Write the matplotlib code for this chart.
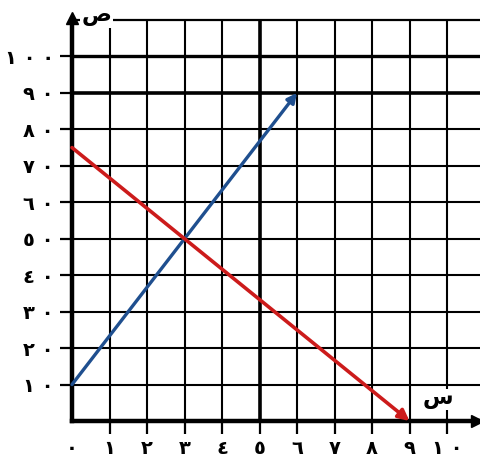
import matplotlib
matplotlib.use("Agg")
import matplotlib.pyplot as plt

plt.rcParams["font.family"] = ["DejaVu Sans"]

# tick values and Arabic-Indic labels
x_ticks = [0, 1, 2, 3, 4, 5, 6, 7, 8, 9, 10]
x_labels = ["٠", "١", "٢", "٣", "٤", "٥", "٦", "٧", "٨", "٩", "١ ٠"]
y_ticks = [10, 20, 30, 40, 50, 60, 70, 80, 90, 100]
y_labels = ["١ ٠", "٢ ٠", "٣ ٠", "٤ ٠", "٥ ٠", "٦ ٠", "٧ ٠", "٨ ٠", "٩ ٠", "١ ٠ ٠"]

# the two lines (start, end)
blue_x = [0, 6]
blue_y = [10, 90]
red_x = [0, 9]
red_y = [75, 0]

x_name = "س"
y_name = "ص"

BLUE = "#1f4f8f"
RED = "#cc1b1b"

fig = plt.figure(figsize=(4.8, 4.65), dpi=100)
ax = fig.add_axes([72 / 480, 44 / 465, 408 / 480, 401 / 465])
ax.set_xlim(0, 10.88)
ax.set_ylim(0, 110)

ax.spines["right"].set_visible(False)
ax.spines["left"].set_linewidth(3.2)
ax.spines["bottom"].set_linewidth(3.2)
ax.spines["top"].set_linewidth(1.6)

ax.set_xticks(x_ticks)
ax.set_xticklabels(x_labels, fontsize=14, fontweight="bold")
ax.set_yticks(y_ticks)
ax.set_yticklabels(y_labels, fontsize=14, fontweight="bold")
ax.tick_params(direction="out", length=9, width=1.6, pad=4)
ax.xaxis.get_major_ticks()[0].tick1line.set_visible(False)

ax.grid(True, color="black", linewidth=1.5, zorder=0)
ax.set_axisbelow(True)
# heavier lines as in the hand-drawn grid
ax.get_xgridlines()[5].set_linewidth(2.6)
ax.get_ygridlines()[8].set_linewidth(2.6)
ax.get_ygridlines()[9].set_linewidth(2.4)

# axis arrowheads
ax.plot([0], [110.5], marker="^", color="black", markersize=9, clip_on=False, zorder=5)
ax.plot([10.8], [0], marker=">", color="black", markersize=9, clip_on=False, zorder=5)

# axis names
ax.text(0.25, 111, y_name, fontsize=16, fontweight="bold", ha="left", va="center",
        bbox=dict(facecolor="white", edgecolor="none", pad=1), zorder=6)
ax.text(9.75, 3.2, x_name, fontsize=16, fontweight="bold", ha="center", va="bottom",
        bbox=dict(facecolor="white", edgecolor="none", pad=0.5), zorder=6)

# the two lines with arrowheads
ax.annotate("", xy=(blue_x[1], blue_y[1]), xytext=(blue_x[0], blue_y[0]),
            arrowprops=dict(arrowstyle="-|>", color=BLUE, lw=2.4, mutation_scale=14,
                            shrinkA=0, shrinkB=0), zorder=4)
ax.annotate("", xy=(red_x[1], red_y[1]), xytext=(red_x[0], red_y[0]),
            arrowprops=dict(arrowstyle="-|>", color=RED, lw=2.6, mutation_scale=16,
                            shrinkA=0, shrinkB=0), zorder=4)

fig.savefig("out.png", dpi=100)
